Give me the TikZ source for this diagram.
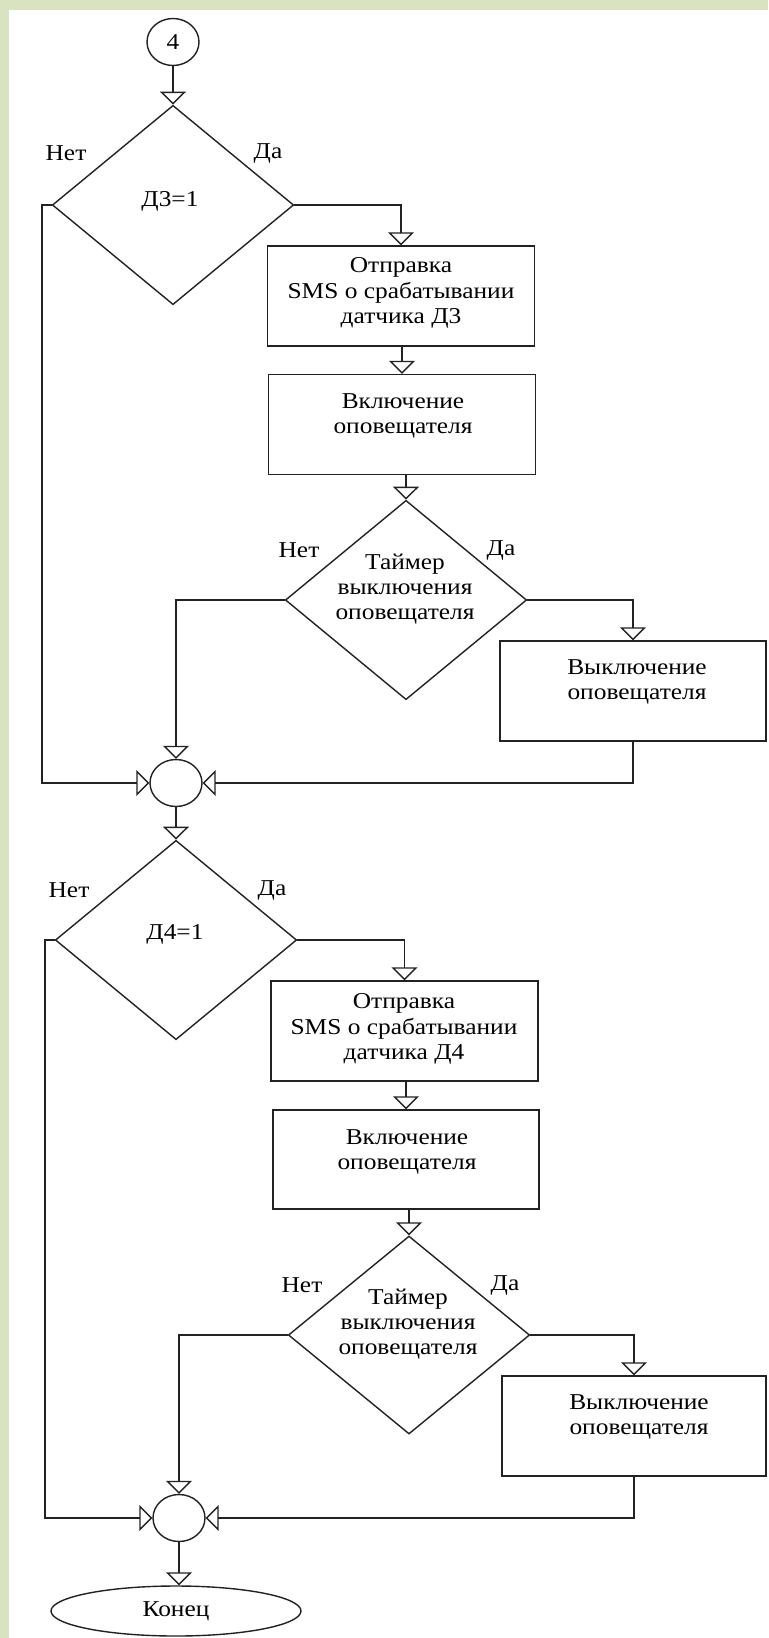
\documentclass[tikz,border=0pt]{standalone}
\usepackage{fontspec}
\setmainfont{Liberation Serif}[FakeStretch=1.12]
\usetikzlibrary{shapes.geometric,arrows.meta}
\definecolor{pagegreen}{HTML}{D9E3C0}
\definecolor{ink}{HTML}{222222}
\begin{document}
\begin{tikzpicture}[x=0.75pt,y=-0.75pt,
  every node/.style={font=\fontsize{17}{19}\selectfont, text=black},
  base/.style={draw=ink, line width=1.05pt, fill=white, inner sep=0pt},
  proc/.style={base, rectangle, minimum width=200pt, minimum height=75pt},
  cond/.style={base, diamond, minimum width=181pt, minimum height=149.5pt},
  junc/.style={base, ellipse, minimum width=39pt, minimum height=35.25pt},
  term/.style={base, ellipse, minimum width=187.5pt, minimum height=37.5pt},
  txt/.style={align=center, inner sep=0pt},
  flow/.style={draw=ink, line width=1.05pt, -{Triangle[open,length=9.75pt,width=19.5pt]}}
]
% page with the green frame
\useasboundingbox (0,0) rectangle (768,1638);
\fill[white] (0,0) rectangle (768,1638);
\fill[pagegreen] (0,0) rectangle (768,10);
\fill[pagegreen] (0,0) rectangle (9,1638);

% ---------- sensor D3 ----------
\node[junc] (c4) at (173,42) {4};
\node[cond] (d1) at (173,205) {};
\node[txt] (d1t) at (170,201) {Д3=1};
\node[txt] (d1no) at (66,153) {Нет};
\node[txt] (d1yes) at (268,153) {Да};

\node[proc] (b1) at (401,296) {};
\node[txt] (b1t) at (401,293) {Отправка\\SMS о срабатывании\\датчика Д3};
\node[proc] (b2) at (402,424.5) {};
\node[txt] (b2t) at (403,416) {Включение\\оповещателя};

\node[cond] (t1) at (406,600) {};
\node[txt] (t1t) at (405,589) {Таймер\\выключения\\оповещателя};
\node[txt] (t1no) at (299,550) {Нет};
\node[txt] (t1yes) at (501,550) {Да};

\node[proc, minimum width=199.5pt] (r1) at (633,691) {};
\node[txt] (r1t) at (637,682) {Выключение\\оповещателя};

\node[junc] (j1) at (176,783) {};
\coordinate (l1) at (42,783);

% ---------- sensor D4 ----------
\node[cond] (d3) at (176,940) {};
\node[txt] (d3t) at (175,934) {Д4=1};
\node[txt] (d3no) at (69,890) {Нет};
\node[txt] (d3yes) at (272,890) {Да};

\node[proc] (b3) at (404.5,1031) {};
\node[txt] (b3t) at (404,1029) {Отправка\\SMS о срабатывании\\датчика Д4};
\node[proc, minimum width=199.5pt, minimum height=74.25pt] (b4) at (406,1159.5) {};
\node[txt] (b4t) at (407,1152) {Включение\\оповещателя};

\node[cond, minimum height=148.5pt] (t2) at (409,1335) {};
\node[txt] (t2t) at (408,1324) {Таймер\\выключения\\оповещателя};
\node[txt] (t2no) at (302,1285) {Нет};
\node[txt] (t2yes) at (505,1285) {Да};

\node[proc, minimum width=198pt] (r2) at (634,1426) {};
\node[txt] (r2t) at (639,1417) {Выключение\\оповещателя};

\node[junc] (j2) at (179,1518) {};
\coordinate (l2) at (45,1518);

\node[term] (e) at (176,1611) {Конец};

% ---------- connectors ----------
\draw[flow] (c4) -- (d1);
\draw[flow] (d1.east) -| (b1.north);
\draw[flow] (d1.west) -| (l1) -- (j1.west);
\draw[flow] (b2.north |- b1.south) -- (b2.north);
\draw[flow] (t1.north |- b2.south) -- (t1.north);
\draw[flow] (t1.east) -| (r1.north);
\draw[flow] (t1.west) -| (j1.north);
\draw[flow] (r1.south) |- (j1.east);

\draw[flow] (j1) -- (d3);
\draw[flow] (d3.east) -| (b3.north);
\draw[flow] (d3.west) -| (l2) -- (j2.west);
\draw[flow] (b4.north |- b3.south) -- (b4.north);
\draw[flow] (t2.north |- b4.south) -- (t2.north);
\draw[flow] (t2.east) -| (r2.north);
\draw[flow] (t2.west) -| (j2.north);
\draw[flow] (r2.south) |- (j2.east);
\draw[flow] (j2.south) -- (j2.south |- e.north);
\end{tikzpicture}
\end{document}
